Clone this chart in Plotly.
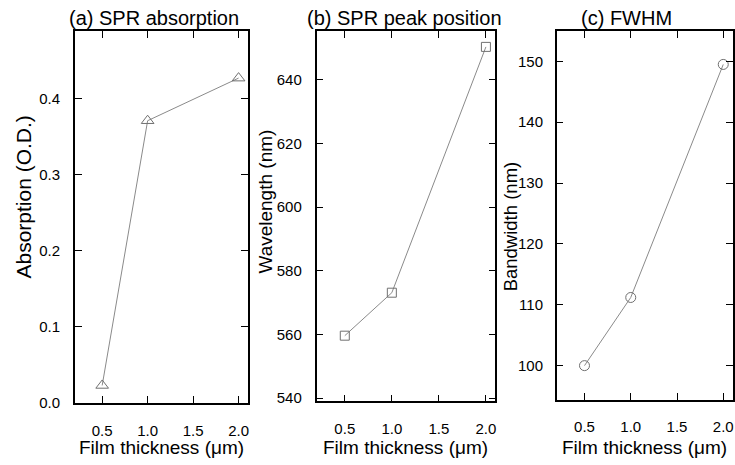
import plotly.graph_objects as go

thickness = [0.5, 1.0, 2.0]
absorption = [0.023, 0.371, 0.427]
wavelength = [559.6, 573.1, 650.3]
bandwidth = [100.0, 111.2, 149.5]

x_ticks = [0.5, 1.0, 1.5, 2.0]
x_ticklabels = ["0.5", "1.0", "1.5", "2.0"]
a_ticks = [0.0, 0.1, 0.2, 0.3, 0.4]
a_ticklabels = ["0.0", "0.1", "0.2", "0.3", "0.4"]
b_ticks = [540, 560, 580, 600, 620, 640]
c_ticks = [100, 110, 120, 130, 140, 150]

panel_titles = ["(a) SPR absorption", "(b) SPR peak position", "(c) FWHM"]
y_titles = ["Absorption (O.D.)", "Wavelength (nm)", "Bandwidth (nm)"]
x_title = "Film thickness (\u03bcm)"

W, H = 735, 465
FONT = "Arial, Liberation Sans, sans-serif"

def fx(px):
    return px / W

def fy(py):
    return (H - py) / H

boxes = [(75, 248, 31.5, 410), (317, 496, 31.5, 408.3), (557.5, 733.5, 31.5, 406.7)]
yranges = [[0, 0.489], [539.0, 655.3], [94.4, 155.0]]
yticks = [(a_ticks, a_ticklabels), (b_ticks, [str(v) for v in b_ticks]), (c_ticks, [str(v) for v in c_ticks])]
series = [absorption, wavelength, bandwidth]
symbols = ["triangle-up-open", "square-open", "circle-open"]
msizes = [11, 9, 10]
ystandoff = [10, 10, 9]

fig = go.Figure()
for i in range(3):
    sfx = "" if i == 0 else str(i + 1)
    fig.add_trace(go.Scatter(
        x=thickness, y=series[i], mode="lines+markers",
        xaxis="x" + sfx, yaxis="y" + sfx,
        line=dict(color="#8a8a8a", width=1),
        marker=dict(symbol=symbols[i], size=msizes[i], color="#707070", line=dict(width=1, color="#707070")),
        showlegend=False,
    ))

layout = dict(
    width=W, height=H,
    margin=dict(l=0, r=0, t=0, b=0),
    paper_bgcolor="white", plot_bgcolor="white",
    font=dict(family=FONT, color="black"),
    annotations=[],
)

title_cx = [154, 405.5, 627.5]
ytitle_pos = [(24, 200, 21), (266, 205.5, 19), (511, 230, 18.5)]

for i in range(3):
    sfx = "" if i == 0 else str(i + 1)
    x0, x1, y0, y1 = boxes[i]
    common = dict(
        showline=True, linecolor="black", linewidth=1.5, mirror="ticks",
        ticks="inside", ticklen=7, tickwidth=1.3, tickcolor="black",
        showgrid=False, zeroline=False,
        tickfont=dict(family=FONT, size=15, color="black"),
    )
    layout["xaxis" + sfx] = dict(
        common, domain=[fx(x0), fx(x1)], range=[0.2, 2.1],
        tickvals=x_ticks, ticktext=x_ticklabels,
        anchor="y" + sfx, ticklabelstandoff=13,
    )
    tv, tt = yticks[i]
    layout["yaxis" + sfx] = dict(
        common, domain=[fy(y1), fy(y0)], range=yranges[i],
        tickvals=tv, ticktext=tt,
        anchor="x" + sfx, ticklabelstandoff=ystandoff[i],
    )
    layout["annotations"].append(dict(
        text=panel_titles[i], x=fx(title_cx[i]), y=fy(18), xref="paper", yref="paper",
        xanchor="center", yanchor="middle", showarrow=False,
        font=dict(family=FONT, size=20, color="black"),
    ))
    layout["annotations"].append(dict(
        text=x_title, x=fx((x0 + x1) / 2), y=fy(455), xref="paper", yref="paper",
        xanchor="center", yanchor="middle", showarrow=False,
        font=dict(family=FONT, size=19, color="black"),
    ))
    tx, ty, fs = ytitle_pos[i]
    layout["annotations"].append(dict(
        text=y_titles[i], x=fx(tx), y=fy(ty), xref="paper", yref="paper",
        xanchor="center", yanchor="middle", showarrow=False, textangle=-90,
        font=dict(family=FONT, size=fs, color="black"),
    ))

fig.update_layout(**layout)
fig.write_html(
    "out.html",
    config={"displayModeBar": False},
    post_script="document.body.style.margin='0px';document.body.style.overflow='hidden';",
)
